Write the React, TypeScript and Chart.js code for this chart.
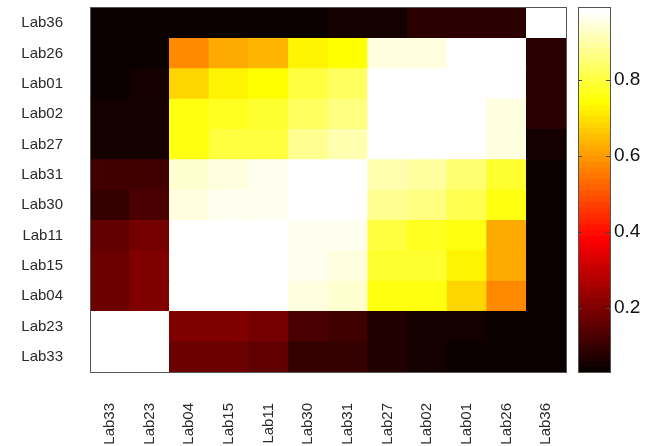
import React, { useEffect, useRef } from "react";
import { Chart, registerables } from "chart.js";

Chart.register(...registerables);

// Columns, left to right
const columnLabels = ["Lab33", "Lab23", "Lab04", "Lab15", "Lab11", "Lab30", "Lab31", "Lab27", "Lab02", "Lab01", "Lab26", "Lab36"];
// Rows, top to bottom
const rowLabels = ["Lab36", "Lab26", "Lab01", "Lab02", "Lab27", "Lab31", "Lab30", "Lab11", "Lab15", "Lab04", "Lab23", "Lab33"];

// Values per row (same column order as columnLabels)
const lab36 = [0.03, 0.03, 0.035, 0.04, 0.04, 0.04, 0.045, 0.05, 0.08, 0.08, 0.085, 1.0];
const lab26 = [0.03, 0.035, 0.58, 0.625, 0.635, 0.73, 0.74, 0.95, 0.95, 0.99, 1.0, 0.085];
const lab01 = [0.04, 0.05, 0.68, 0.72, 0.74, 0.8, 0.83, 0.99, 0.995, 1.0, 0.99, 0.08];
const lab02 = [0.05, 0.05, 0.75, 0.77, 0.78, 0.83, 0.86, 0.995, 1.0, 0.995, 0.95, 0.08];
const lab27 = [0.05, 0.05, 0.76, 0.8, 0.8, 0.87, 0.91, 1.0, 0.995, 0.99, 0.95, 0.05];
const lab31 = [0.11, 0.11, 0.94, 0.95, 0.96, 0.995, 1.0, 0.91, 0.89, 0.84, 0.78, 0.04];
const lab30 = [0.1, 0.12, 0.95, 0.97, 0.97, 1.0, 0.995, 0.88, 0.86, 0.82, 0.76, 0.04];
const lab11 = [0.16, 0.19, 0.99, 0.995, 1.0, 0.97, 0.96, 0.8, 0.77, 0.75, 0.615, 0.035];
const lab15 = [0.17, 0.2, 0.995, 1.0, 0.995, 0.97, 0.95, 0.79, 0.78, 0.72, 0.62, 0.035];
const lab04 = [0.17, 0.2, 1.0, 0.995, 0.99, 0.95, 0.94, 0.76, 0.75, 0.68, 0.58, 0.03];
const lab23 = [0.99, 1.0, 0.2, 0.2, 0.19, 0.12, 0.11, 0.06, 0.05, 0.05, 0.04, 0.03];
const lab33 = [1.0, 0.99, 0.17, 0.17, 0.16, 0.1, 0.1, 0.06, 0.05, 0.04, 0.03, 0.03];

const rowValues = [lab36, lab26, lab01, lab02, lab27, lab31, lab30, lab11, lab15, lab04, lab23, lab33];

const colorbarTicks = [0.2, 0.4, 0.6, 0.8];
const colorMin = 0.03;
const colorMax = 0.99;

const FONT = "'Liberation Sans', Arial, Helvetica, sans-serif";

function hotIndex(v: number): number {
  const t = (v - colorMin) / (colorMax - colorMin);
  return Math.max(0, Math.min(63, Math.floor(t * 64)));
}

function hotColor(i: number): string {
  const r = i < 24 ? (i + 1) / 24 : 1;
  const g = i < 24 ? 0 : i < 48 ? (i - 23) / 24 : 1;
  const b = i < 48 ? 0 : (i - 47) / 16;
  return `rgb(${Math.round(r * 255)},${Math.round(g * 255)},${Math.round(b * 255)})`;
}

const heatColor = (v: number) => hotColor(hotIndex(v));

const frameAndColorbar = {
  id: "frameAndColorbar",
  afterDraw(chart: any) {
    const ctx = chart.ctx;
    const area = chart.chartArea;
    ctx.save();
    // plot frame
    ctx.strokeStyle = "#555";
    ctx.lineWidth = 1;
    ctx.strokeRect(Math.round(area.left) + 0.5, Math.round(area.top) - 0.5, Math.round(area.right - area.left), Math.round(area.bottom - area.top) + 1);

    // colorbar
    const cb = chart.scales.colorbar;
    const x0 = Math.round(cb.left + 12);
    const x1 = Math.round(cb.left + 44);
    for (let i = 0; i < 64; i++) {
      const vLo = colorMin + (i * (colorMax - colorMin)) / 64;
      const vHi = colorMin + ((i + 1) * (colorMax - colorMin)) / 64;
      const yLo = cb.getPixelForValue(vLo);
      const yHi = cb.getPixelForValue(vHi);
      ctx.fillStyle = hotColor(i);
      ctx.fillRect(x0, yHi - 0.5, x1 - x0, yLo - yHi + 1);
    }
    ctx.strokeStyle = "#555";
    ctx.strokeRect(x0 + 0.5, Math.round(cb.top) - 0.5, x1 - x0, Math.round(cb.bottom - cb.top) + 1);
    ctx.strokeStyle = "#444";
    for (const t of colorbarTicks) {
      const y = Math.round(cb.getPixelForValue(t)) + 0.5;
      ctx.beginPath();
      ctx.moveTo(x0, y);
      ctx.lineTo(x0 + 4, y);
      ctx.moveTo(x1, y);
      ctx.lineTo(x1 - 4, y);
      ctx.stroke();
    }
    ctx.restore();
  },
};

export default function App() {
  const canvasRef = useRef<HTMLCanvasElement | null>(null);

  useEffect(() => {
    if (!canvasRef.current) return;
    const n = rowLabels.length;
    const datasets = [];
    for (let k = 0; k < n; k++) {
      const rowIdx = n - 1 - k; // bottom row first in the stack
      const vals = rowValues[rowIdx];
      datasets.push({
        label: rowLabels[rowIdx],
        data: vals.map(() => 1),
        backgroundColor: vals.map((v) => heatColor(v)),
        borderWidth: 0,
        barPercentage: 1,
        categoryPercentage: 1,
      });
    }

    const noVPad = (s: any) => {
      s.paddingTop = 0;
      s.paddingBottom = 0;
    };

    const chart = new Chart(canvasRef.current, {
      type: "bar",
      data: { labels: columnLabels, datasets },
      options: {
        animation: false,
        responsive: false,
        maintainAspectRatio: false,
        events: [],
        layout: { padding: { top: 8, right: 0, left: 0, bottom: 0 } },
        plugins: { legend: { display: false }, tooltip: { enabled: false } },
        scales: {
          x: {
            type: "category",
            stacked: true,
            offset: true,
            grid: { display: false, drawTicks: false },
            border: { display: false },
            ticks: {
              autoSkip: false,
              minRotation: 90,
              maxRotation: 90,
              padding: 31,
              color: "#2a2a2a",
              font: { family: FONT, size: 15 },
            },
            afterFit: (s: any) => {
              s.height = 74;
              s.paddingLeft = 0;
              s.paddingRight = 0;
            },
          },
          y: { type: "linear", stacked: true, min: 0, max: 12, display: false },
          rows: {
            type: "category",
            labels: rowLabels,
            position: "left",
            offset: true,
            grid: { display: false, drawTicks: false },
            border: { display: false },
            ticks: { padding: 27, color: "#2a2a2a", font: { family: FONT, size: 15 } },
            afterFit: (s: any) => {
              s.width = 90;
              noVPad(s);
            },
          },
          colorbar: {
            type: "linear",
            position: "right",
            min: colorMin,
            max: colorMax,
            grid: { display: false, drawTicks: false },
            border: { display: false },
            afterBuildTicks: (s: any) => {
              s.ticks = colorbarTicks.map((v) => ({ value: v }));
            },
            ticks: {
              padding: 48,
              color: "#111",
              font: { family: FONT, size: 19 },
              callback: (v: any) => Number(v).toFixed(1),
            },
            afterFit: (s: any) => {
              s.width = 91;
              noVPad(s);
            },
          },
        },
      } as any,
      plugins: [frameAndColorbar],
    });
    return () => chart.destroy();
  }, []);

  return (
    <div style={{ position: "fixed", left: 0, top: 0, width: 657, height: 446, background: "#fff" }}>
      <canvas ref={canvasRef} width={657} height={446} style={{ display: "block", width: 657, height: 446 }} />
    </div>
  );
}
